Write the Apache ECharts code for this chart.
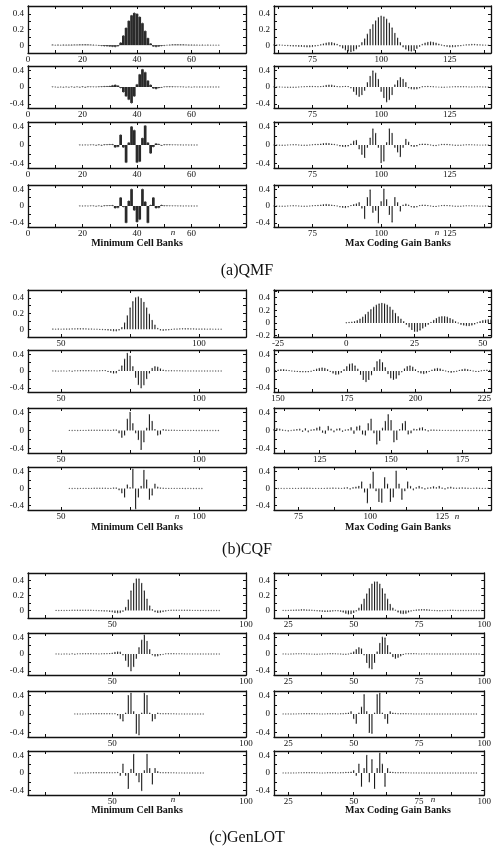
<!DOCTYPE html>
<html><head><meta charset="utf-8">
<script src="https://cdn.jsdelivr.net/npm/echarts@6/dist/echarts.min.js"></script>
<style>html,body{margin:0;padding:0;background:#fff}#c{width:494px;height:854px}</style>
</head><body><div id="c"></div>
<script>
// ---------- DATA (sample index start + impulse response values) ----------
const qmfMin1Start = 9;
const qmfMin1 = [0.004,0,0.003,0,0.003,0.002,0.003,0.003,0.004,0.004,0.005,0.005,0.006,0.005,0.004,0.002,0,-0.003,-0.006,-0.01,-0.012,
 -0.015,-0.018,-0.02,-0.012,
 0.03,0.12,0.22,0.31,0.38,0.41,0.40,0.36,0.28,0.18,0.09,0.02,
 -0.015,-0.02,-0.015,-0.008,
 -0.004,0,0.003,0.005,0.006,0.006,0.005,0.005,0.004,0.003,0.003,0.002,0.002,0,0.002,0,0.002,0,0.001,0,0.001];
const qmfMin2Start = 9;
const qmfMin2 = [0.003,0,-0.003,0,-0.003,0.002,-0.003,0.003,-0.004,0.004,-0.004,0.005,-0.005,0.005,0.004,0.003,0.002,0.005,0.008,0.012,0.015,0.02,
 0.035,0.05,0.03,
 -0.02,-0.12,-0.22,-0.3,-0.38,-0.22,
 0.06,0.3,0.42,0.35,0.15,0.05,
 -0.03,-0.045,-0.02,
 -0.008,0.004,0.005,0.006,0.005,0.004,0.003,0.003,0.002,-0.002,0.002,-0.002,0.002,0,0.001,0,0.001,0,0.001,0,0.001,0];
const qmfMin3Start = 19;
const qmfMin3 = [0.002,0,0.002,0,0.003,0.003,-0.004,0.004,-0.005,0.006,0.008,0.01,
 0.012,-0.05,-0.04,0.22,-0.05,-0.38,0.05,0.4,0.32,-0.38,-0.36,0.15,0.42,0.05,-0.18,-0.04,0.03,0.015,
 -0.008,0.006,0.005,0.004,0.003,0.003,0.002,0.002,0,0.002,0,0.001,0,0.001];
const qmfMin4Start = 19;
const qmfMin4 = [0.002,0,0.002,0,0.003,0.003,-0.004,0.004,-0.005,0.006,0.008,0.01,
 0.012,-0.05,-0.04,0.2,-0.02,-0.4,0.12,0.4,-0.1,-0.38,-0.32,0.4,0.1,-0.4,0.02,0.2,-0.05,-0.04,0.02,
 0.006,0.005,0.004,0.003,0.003,0.002,0.002,0,0.002,0,0.001,0,0.001];

const qmfMax1Start = 61;
const qmfMax1 = [0.004,0.003,0.002,0,-0.003,-0.005,-0.008,-0.01,-0.012,-0.013,
 -0.015,-0.018,-0.02,-0.02,-0.018,-0.012,-0.005,0.005,
 0.015,0.025,0.03,0.03,0.022,0.01,
 -0.01,-0.035,-0.06,-0.075,-0.08,-0.07,-0.045,-0.015,
 0.03,0.08,0.14,0.2,0.26,0.31,0.35,0.37,0.36,0.33,0.28,0.22,0.15,0.09,0.03,
 -0.02,-0.05,-0.07,-0.075,-0.065,-0.04,-0.015,
 0.01,0.025,0.035,0.04,0.035,0.025,0.012,0.002,
 -0.008,-0.015,-0.02,-0.02,-0.018,-0.012,-0.006,0,
 0.004,0.006,0.008,0.008,0.006,0.004,0.002,0.001,0];
const qmfMax2Start = 61;
const qmfMax2 = [0.003,0.002,0,-0.002,-0.004,-0.005,-0.006,-0.005,-0.003,0,0.004,0.008,0.01,0.012,0.012,0.01,0.008,0.01,
 0.02,0.035,0.045,0.04,0.025,0.01,
 0.005,0.01,0.015,0.01,-0.02,
 -0.1,-0.18,-0.22,-0.18,-0.08,
 0.1,0.25,0.38,0.33,0.18,
 -0.1,-0.25,-0.35,-0.3,-0.18,
 0.05,0.15,0.22,0.18,0.1,
 -0.02,-0.04,-0.05,-0.04,-0.02,
 0.005,0.01,0.012,0.01,0.006,0.002,-0.002,-0.004,-0.004,-0.002,0,0.003,0.005,0.006,0.006,0.005,0.003,0.002,0.001,0.002,0.003,0.003,0.002,0.001,0];
const qmfMax3Start = 61;
const qmfMax3 = [0.002,0,-0.003,-0.004,-0.003,0,0.003,0.005,0.004,0,-0.004,-0.006,-0.004,0,0.005,0.01,0.012,
 0.02,0.03,0.035,0.03,0.02,0.01,0,
 -0.02,-0.03,-0.035,-0.02,0.02,
 0.08,0.1,-0.08,-0.2,-0.27,-0.05,0.15,0.35,0.25,-0.05,-0.38,-0.35,0.05,0.35,0.25,-0.05,-0.15,-0.25,-0.05,0.12,0.06,
 -0.02,-0.03,-0.02,0.01,0.02,0.02,0.01,0,-0.01,-0.01,0,0.01,0.012,0.01,0.005,0,-0.004,-0.005,-0.003,0,0.003,0.004,0.003,0.002,0,-0.002,-0.002,0,0.001];
const qmfMax4Start = 61;
const qmfMax4 = [0.002,0,-0.003,-0.004,-0.003,0,0.003,0.005,0.004,0,-0.004,-0.006,-0.004,0,0.005,0.01,0.012,
 0.02,0.03,0.035,0.03,0.02,0.01,0,
 -0.02,-0.03,-0.035,-0.02,0.01,
 0.03,0.05,0.08,-0.05,-0.3,0.2,0.38,-0.15,-0.1,-0.4,0.1,0.4,0.15,-0.2,-0.38,0.2,0.08,-0.12,0.02,0.04,0.02,
 -0.02,-0.03,-0.02,0.01,0.02,0.02,0.01,0,-0.01,-0.01,0,0.01,0.012,0.01,0.005,0,-0.004,-0.005,-0.003,0,0.003,0.004,0.003,0.002,0,-0.002,-0.002,0,0.001];

const cqfMin1Start = 47;
const cqfMin1 = [0.002,0,0.002,0,0.002,0.003,0.003,0.004,0.004,0.005,0.005,0.005,0.004,0.003,0.002,0,-0.002,-0.003,-0.004,
 -0.006,-0.01,-0.015,-0.02,-0.02,-0.01,
 0.02,0.08,0.17,0.27,0.35,0.4,0.41,0.39,0.34,0.27,0.19,0.11,0.05,0.01,
 -0.01,-0.015,-0.012,-0.008,-0.003,
 0.002,0.003,0.004,0.005,0.005,0.005,0.004,0.004,0.003,0.003,0.002,0.002,0,0.002,0,0.001,0,0.001];
const cqfMin2Start = 47;
const cqfMin2 = [0.002,0,-0.002,0,0.002,-0.002,0.003,-0.003,0.004,0.004,0.005,0.005,0.006,0.005,0.004,0.003,0.002,0.005,0.01,
 0.01,-0.01,-0.03,-0.05,-0.04,0.02,
 0.12,0.28,0.42,0.35,0.1,-0.15,-0.32,-0.4,-0.33,-0.18,-0.05,0.06,0.1,0.09,0.05,0.02,
 0.005,0.004,0.005,0.004,0.003,0.003,0.002,0.002,0.002,0,0.002,0,0.001,0,0.001,0,0.001,0,0.001,0,0.001];
const cqfMin3Start = 53;
const cqfMin3 = [0.002,0,0.002,0,0.002,0.003,0.003,0.004,0.004,0.005,0.005,0.006,0.006,0.005,0.004,0.002,0.01,
 0.01,-0.05,-0.15,-0.1,0.25,0.4,0.15,-0.05,-0.2,-0.42,-0.25,0.05,0.35,0.2,0.02,-0.1,-0.08,0.02,0.01,
 0.005,0.004,0.004,0.003,0.003,0.002,0.002,0.002,0,0.002,0,0.001,0,0.001,0,0.001,0,0.001,0];
const cqfMin4Start = 53;
const cqfMin4 = [0.002,0,0.002,0,0.002,0.003,0.003,0.004,0.004,0.005,0.005,0.006,0.006,0.005,0.004,0.002,0.01,
 0.01,-0.03,-0.1,-0.2,0.08,0.02,0.45,-0.47,-0.2,0.05,0.42,0.2,-0.25,-0.15,0.1,0.03,0.01,
 0.005,0.004,0.004,0.003,0.003,0.002,0.002,0.002,0,0.002,0,0.001,0,0.001,0];

const cqfMax1Start = 0;
const cqfMax1 = [0.005,0.008,0.012,0.02,0.035,0.06,0.09,0.13,0.17,0.21,0.25,0.28,0.3,0.31,0.3,0.28,0.25,0.2,0.15,0.1,0.06,0.02,
 -0.02,-0.06,-0.1,-0.13,-0.13,-0.11,-0.08,-0.05,-0.02,
 0.01,0.04,0.07,0.09,0.1,0.1,0.09,0.07,0.05,0.02,0,
 -0.02,-0.03,-0.04,-0.04,-0.03,-0.015,
 0.005,0.02,0.035,0.045,0.05,0.05];
const cqfMax2Start = 149;
const cqfMax2 = [0.01,0.02,0.03,0.03,0.02,0.01,0,-0.005,-0.01,
 -0.015,-0.02,-0.02,-0.015,-0.005,0.015,
 0.04,0.06,0.07,0.06,0.03,
 -0.01,-0.05,-0.08,-0.07,-0.03,
 0.03,0.1,0.16,0.17,0.12,0.04,
 -0.08,-0.2,-0.25,-0.2,-0.09,
 0.08,0.22,0.27,0.2,0.08,
 -0.06,-0.16,-0.2,-0.17,-0.09,-0.02,
 0.05,0.1,0.12,0.09,0.03,
 -0.02,-0.05,-0.06,-0.04,-0.01,
 0.02,0.05,0.06,0.05,0.02,0,
 -0.02,-0.03,-0.02,-0.005,
 0.015,0.03,0.04,0.03,0.015,0,
 -0.01,-0.01,0.005,0.015,0.02,0.015];
const cqfMax3Start = 109;
const cqfMax3 = [0.02,0.04,0.03,0.01,0,-0.01,0,0.01,
 0.02,0.03,-0.02,0.04,-0.03,0.01,0.02,
 0.05,0.08,-0.04,-0.06,0.09,0.03,
 -0.03,0.03,0.04,-0.02,0.01,0.02,
 0.06,-0.06,0.08,0.1,-0.08,-0.1,
 0.15,0.25,-0.05,-0.3,-0.22,0.05,
 0.2,0.35,0.22,-0.25,-0.2,0.02,
 0.15,0.2,-0.08,-0.05,0.03,0.02,
 0.05,0.06,0.02,-0.01,0.01,0.01,
 0.005,0.004,0.003,0.002,0.002,0.001,0.001,0,0.001,0,0.002,0.001,0,0.001,0,0.001,0,0.001,0,0.001];
const cqfMax4Start = 67;
const cqfMax4 = [0.002,0,0.002,0,0.002,0.003,0.003,0.004,0.004,0.005,0.005,0.006,0.005,0.004,0.003,0.003,0.002,0.004,0.006,0.008,0.01,0.008,0.006,0.004,
 0.01,0.02,-0.01,0.02,0.03,
 0.05,0.15,-0.08,-0.33,0.1,0.38,-0.05,-0.3,-0.32,0.25,0.1,-0.3,-0.2,0.4,0.1,-0.25,-0.05,0.15,0.05,-0.03,
 0.02,0.05,0.02,-0.01,0.01,0.02,0.04,0.02,0.05,0.01,-0.01,0.02,0.03,0.01,
 0.005,0.01,0.015,0.01,0.005,0.002,0.008,0.012,0.006,0.002,0.004,0.006,0.003];

const genMin1Start = 29;
const genMin1 = [0.002,0,0.002,0,0.002,0.002,0.003,0.003,0.004,0.004,0.005,0.005,0.004,0.003,0.002,0,-0.002,-0.004,-0.006,-0.008,-0.012,-0.018,
 -0.025,-0.03,-0.028,-0.01,
 0.04,0.14,0.26,0.36,0.42,0.42,0.36,0.26,0.15,0.06,0.01,
 -0.015,-0.025,-0.022,-0.014,-0.006,
 0.002,0.004,0.005,0.005,0.005,0.004,0.004,0.003,0.003,0.002,0.002,0.002,0,0.002,0,0.001,0,0.001,0,0.001];
const genMin2Start = 29;
const genMin2 = [0.002,0,-0.002,0,0.002,-0.002,0.003,-0.003,0.004,0.004,0.005,0.005,0.006,0.005,0.004,0.003,0.002,0.003,0.005,0.008,0.01,0.02,
 0.035,0.05,0.04,-0.02,
 -0.15,-0.3,-0.4,-0.3,-0.1,
 0.15,0.33,0.45,0.3,0.1,
 -0.02,-0.05,-0.04,-0.02,
 -0.008,0.004,0.005,0.006,0.005,0.004,0.003,0.003,0.002,0.002,0.002,0,0.002,0,0.001,0,0.001,0,0.001,0,0.001,0];
const genMin3Start = 36;
const genMin3 = [0.002,0,0.002,0,0.002,0.003,0.003,0.004,0.004,0.005,0.005,0.006,0.005,0.004,0.003,0.008,
 -0.02,-0.1,-0.15,0.02,0.4,0.45,0.05,-0.42,-0.45,0.02,0.45,0.4,0.02,-0.15,-0.1,0.02,
 0.008,0.005,0.004,0.004,0.003,0.003,0.002,0.002,0.002,0,0.002,0,0.001,0,0.001,0,0.001];
const genMin4Start = 36;
const genMin4 = [0.002,0,0.002,0,0.002,0.003,0.003,0.004,0.004,0.005,0.005,0.006,0.005,0.004,0.003,0.008,
 0.01,-0.05,0.2,-0.05,-0.35,0.08,0.42,-0.05,-0.2,-0.4,0.05,0.42,0.1,-0.25,0.1,0.03,
 0.008,0.005,0.004,0.004,0.003,0.003,0.002,0.002,0.002,0,0.002,0,0.001,0,0.001,0,0.001];

const genMax1Start = 23;
const genMax1 = [0.002,0,0.002,0.003,0.004,0.006,0.008,0.01,0.01,0.008,0.006,0.003,0,-0.003,-0.006,-0.01,-0.012,-0.012,-0.01,-0.006,-0.002,-0.004,
 -0.01,-0.02,-0.035,-0.045,-0.04,-0.025,-0.005,
 0.03,0.08,0.15,0.22,0.29,0.35,0.38,0.38,0.35,0.29,0.22,0.15,0.08,0.03,0.005,
 -0.02,-0.035,-0.04,-0.035,-0.02,-0.008,
 0.002,0.006,0.01,0.012,0.012,0.01,0.006,0.002,0,-0.002,-0.003,-0.002,0,0.002,0.003,0.003,0.002,0,0.001,0,0.001,0,0.001,0,0.001,0,0.001];
const genMax2Start = 23;
const genMax2 = [0.002,0,-0.002,0,0.002,0.003,0.004,0.004,0.003,0.002,0,-0.002,-0.003,-0.003,-0.002,0,0.002,0.004,0.006,0.006,0.004,0.002,0,-0.003,-0.005,0,
 0.02,0.05,0.1,0.15,0.12,-0.02,
 -0.2,-0.33,-0.35,-0.2,
 0.05,0.25,0.4,0.38,0.2,0.03,
 -0.06,-0.1,-0.08,-0.04,-0.01,
 0.004,0.006,0.006,0.005,0.003,0.002,0,0.002,0.003,0.002,0.001,0,0.001,0,0.001,0,0.001,0,0.001,0,0.001,0,0.001,0,0.001,0,0.001,0,0.001];
const genMax3Start = 23;
const genMax3 = [0.002,0,0.002,0,0.002,0.002,0.003,0.003,0.004,0.004,0.005,0.005,0.004,0.003,0.002,0,0.002,0.004,0.005,0.006,0.004,0.002,0.004,0.006,
 0.01,0.02,0.05,-0.1,-0.2,0.02,0.15,0.42,0.05,-0.4,-0.42,0.02,0.42,0.45,0.02,-0.1,-0.2,0.05,0.02,0.01,
 0.006,0.005,0.004,0.004,0.003,0.003,0.002,0.002,0.002,0,0.002,0,0.001,0,0.001,0,0.001,0,0.001,0,0.001,0,0.001,0,0.001,0,0.001,0,0.001,0.001,0];
const genMax4Start = 23;
const genMax4 = [0.002,0,0.002,0,0.002,0.002,0.003,0.003,0.004,0.004,0.005,0.005,0.004,0.003,0.002,0,0.002,0.004,0.005,0.006,0.004,0.002,0.004,0.006,
 0.01,0.01,0.02,0.05,-0.05,0.2,-0.3,0.1,0.4,-0.2,0.3,-0.35,0.1,0.45,0.2,-0.3,0.1,0.02,0.01,
 0.006,0.005,0.004,0.004,0.003,0.003,0.002,0.002,0.002,0,0.002,0,0.001,0,0.001,0,0.001,0,0.001,0,0.001,0,0.001,0,0.001,0,0.001,0,0.001,0.001,0,0.001];

// ---------- AXIS TICK LABELS ----------
const qmfMinXLabels = [0, 20, 40, 60];
const qmfMaxXLabels = [75, 100, 125];
const cqfMinXLabels = [50, 100];
const cqfMax1XLabels = [-25, 0, 25, 50];
const cqfMax2XLabels = [150, 175, 200, 225];
const cqfMax3XLabels = [125, 150, 175];
const cqfMax4XLabels = [75, 100, 125];
const genMinXLabels = [50, 100];
const genMaxXLabels = [25, 50, 75, 100];
const yLabelsPos = [0, 0.2, 0.4];
const yLabelsSym = [-0.4, 0, 0.4];
const yLabelsCqfMax1 = [-0.2, 0, 0.2, 0.4];

// ---------- LAYOUT ----------
const colL = {left: 28, width: 218};
const colR = {left: 274, width: 217};
const rows = [
  [6, 47], [66, 42], [122, 46], [185, 42],
  [290, 47], [350, 42], [408, 45], [467, 43],
  [573, 45], [633, 42], [691, 46], [751, 44]
];
const FONT = 'Liberation Serif, DejaVu Serif, serif';

function ticksEvery(min, max, step) {
  const out = [];
  let v = Math.ceil(min / step - 1e-9) * step;
  for (; v <= max + 1e-9; v += step) out.push(Math.round(v * 1000) / 1000);
  return out;
}
function fmt(v) { return v === 0 ? '0' : String(v); }

const panels = [
  // data, start, xMin, xMax, xLabels, xTickStep, yMode, col, row, barW, color
  [qmfMin1, qmfMin1Start, 0, 80, qmfMinXLabels, 10, 'pos', colL, 0, 2.7, '#2a2a2a'],
  [qmfMin2, qmfMin2Start, 0, 80, qmfMinXLabels, 10, 'sym', colL, 1, 2.7, '#2a2a2a'],
  [qmfMin3, qmfMin3Start, 0, 80, qmfMinXLabels, 10, 'sym', colL, 2, 2.7, '#2a2a2a'],
  [qmfMin4, qmfMin4Start, 0, 80, qmfMinXLabels, 10, 'sym', colL, 3, 2.7, '#2a2a2a'],
  [qmfMax1, qmfMax1Start, 61, 140, qmfMaxXLabels, 12.5, 'pos', colR, 0, 1.1, '#1a1a1a'],
  [qmfMax2, qmfMax2Start, 61, 140, qmfMaxXLabels, 12.5, 'sym', colR, 1, 1.1, '#1a1a1a'],
  [qmfMax3, qmfMax3Start, 61, 140, qmfMaxXLabels, 12.5, 'sym', colR, 2, 1.1, '#1a1a1a'],
  [qmfMax4, qmfMax4Start, 61, 140, qmfMaxXLabels, 12.5, 'sym', colR, 3, 1.1, '#1a1a1a'],
  [cqfMin1, cqfMin1Start, 38, 117, cqfMinXLabels, 25, 'pos', colL, 4, 1.1, '#1a1a1a'],
  [cqfMin2, cqfMin2Start, 38, 117, cqfMinXLabels, 25, 'sym', colL, 5, 1.1, '#1a1a1a'],
  [cqfMin3, cqfMin3Start, 38, 117, cqfMinXLabels, 25, 'sym', colL, 6, 1.1, '#1a1a1a'],
  [cqfMin4, cqfMin4Start, 38, 117, cqfMinXLabels, 25, 'sym', colL, 7, 1.1, '#1a1a1a'],
  [cqfMax1, cqfMax1Start, -26.5, 53, cqfMax1XLabels, 12.5, 'cqf1', colR, 4, 1.1, '#1a1a1a'],
  [cqfMax2, cqfMax2Start, 148.5, 227.5, cqfMax2XLabels, 12.5, 'sym', colR, 5, 1.1, '#1a1a1a'],
  [cqfMax3, cqfMax3Start, 109, 185, cqfMax3XLabels, 12.5, 'sym', colR, 6, 1.1, '#1a1a1a'],
  [cqfMax4, cqfMax4Start, 66.5, 142, cqfMax4XLabels, 12.5, 'sym', colR, 7, 1.1, '#1a1a1a'],
  [genMin1, genMin1Start, 18.5, 100, genMinXLabels, 25, 'pos', colL, 8, 1.1, '#1a1a1a'],
  [genMin2, genMin2Start, 18.5, 100, genMinXLabels, 25, 'sym', colL, 9, 1.1, '#1a1a1a'],
  [genMin3, genMin3Start, 18.5, 100, genMinXLabels, 25, 'sym', colL, 10, 1.1, '#1a1a1a'],
  [genMin4, genMin4Start, 18.5, 100, genMinXLabels, 25, 'sym', colL, 11, 1.1, '#1a1a1a'],
  [genMax1, genMax1Start, 19.5, 100, genMaxXLabels, 12.5, 'pos', colR, 8, 1.1, '#1a1a1a'],
  [genMax2, genMax2Start, 19.5, 100, genMaxXLabels, 12.5, 'sym', colR, 9, 1.1, '#1a1a1a'],
  [genMax3, genMax3Start, 19.5, 100, genMaxXLabels, 12.5, 'sym', colR, 10, 1.1, '#1a1a1a'],
  [genMax4, genMax4Start, 19.5, 100, genMaxXLabels, 12.5, 'sym', colR, 11, 1.1, '#1a1a1a']
];

const grid = [], xAxis = [], yAxis = [], series = [];
const lineStyle = {color: '#111', width: 1.3};
const labelStyle = {fontFamily: FONT, fontSize: 9, color: '#111'};

panels.forEach((p, i) => {
  const [vals, start, xMin, xMax, xLabels, xStep, yMode, col, row, barW, color] = p;
  const [top, h] = rows[row];
  grid.push({left: col.left, top: top, width: col.width, height: h, show: false, containLabel: false});
  let yMin, yMax, yLab, yTicks;
  if (yMode === 'pos') { yMin = -0.1; yMax = 0.5; yLab = yLabelsPos; yTicks = [0, 0.1, 0.2, 0.3, 0.4]; }
  else if (yMode === 'cqf1') { yMin = -0.22; yMax = 0.52; yLab = yLabelsCqfMax1; yTicks = [-0.2, -0.1, 0, 0.1, 0.2, 0.3, 0.4, 0.5]; }
  else { yMin = -0.5; yMax = 0.5; yLab = yLabelsSym; yTicks = [-0.4, -0.2, 0, 0.2, 0.4]; }
  const xTicks = ticksEvery(xMin, xMax, xStep);
  const base = {type: 'value', gridIndex: i, min: xMin, max: xMax, splitLine: {show: false}, axisLine: {show: true, onZero: false, lineStyle}};
  xAxis.push(Object.assign({}, base, {position: 'bottom',
    axisTick: {show: true, inside: true, length: 3, customValues: xTicks, lineStyle: {color: '#111', width: 1}},
    axisLabel: Object.assign({show: true, customValues: xLabels, margin: 2, formatter: fmt}, labelStyle)}));
  xAxis.push(Object.assign({}, base, {position: 'top',
    axisTick: {show: true, inside: true, length: 3, customValues: xTicks, lineStyle: {color: '#111', width: 1}},
    axisLabel: {show: false}}));
  const ybase = {type: 'value', gridIndex: i, min: yMin, max: yMax, splitLine: {show: false}, axisLine: {show: true, onZero: false, lineStyle}};
  yAxis.push(Object.assign({}, ybase, {position: 'left',
    axisTick: {show: true, inside: true, length: 3, customValues: yTicks, lineStyle: {color: '#111', width: 1}},
    axisLabel: Object.assign({show: true, customValues: yLab, margin: 4, formatter: fmt}, labelStyle)}));
  yAxis.push(Object.assign({}, ybase, {position: 'right',
    axisTick: {show: true, inside: true, length: 3, customValues: yTicks, lineStyle: {color: '#111', width: 1}},
    axisLabel: {show: false}}));
  const pts = vals.map((v, k) => [start + k, v]);
  series.push({type: 'bar', xAxisIndex: 2 * i, yAxisIndex: 2 * i, data: pts, barWidth: barW,
    itemStyle: {color: color}, silent: true, animation: false});
  series.push({type: 'scatter', xAxisIndex: 2 * i, yAxisIndex: 2 * i, data: pts, symbolSize: 1.4,
    itemStyle: {color: '#444'}, silent: true, animation: false});
});

function txt(x, y, s, size, extra) {
  return {type: 'text', x: x, y: y, style: Object.assign({text: s, fontFamily: FONT, fontSize: size, fill: '#111', textAlign: 'center', textVerticalAlign: 'middle'}, extra || {})};
}
const graphics = [
  txt(137, 243, 'Minimum Cell Banks', 10, {fontWeight: 'bold'}),
  txt(398, 243, 'Max Coding Gain Banks', 10, {fontWeight: 'bold'}),
  txt(247, 271, '(a)QMF', 16),
  txt(137, 527, 'Minimum Cell Banks', 10, {fontWeight: 'bold'}),
  txt(398, 527, 'Max Coding Gain Banks', 10, {fontWeight: 'bold'}),
  txt(247, 550, '(b)CQF', 16),
  txt(137, 810, 'Minimum Cell Banks', 10, {fontWeight: 'bold'}),
  txt(398, 810, 'Max Coding Gain Banks', 10, {fontWeight: 'bold'}),
  txt(247, 838, '(c)GenLOT', 16),
  txt(173, 233, 'n', 9, {fontStyle: 'italic'}),
  txt(437, 233, 'n', 9, {fontStyle: 'italic'}),
  txt(177, 517, 'n', 9, {fontStyle: 'italic'}),
  txt(457, 517, 'n', 9, {fontStyle: 'italic'}),
  txt(173, 800, 'n', 9, {fontStyle: 'italic'}),
  txt(433, 800, 'n', 9, {fontStyle: 'italic'})
];

const chart = echarts.init(document.getElementById('c'), null, {renderer: 'canvas'});
chart.setOption({animation: false, backgroundColor: '#fff', grid, xAxis, yAxis, series, graphic: graphics});
</script>
</body></html>
